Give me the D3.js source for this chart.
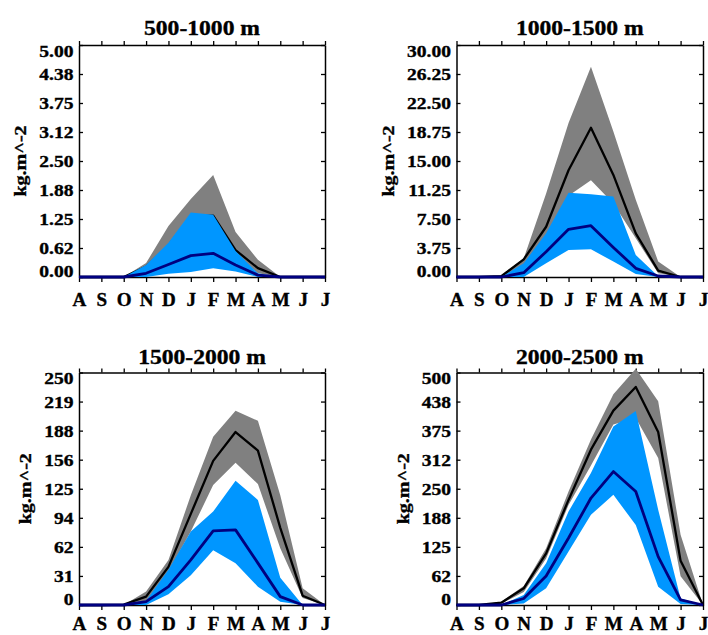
<!DOCTYPE html>
<html>
<head>
<meta charset="utf-8">
<script src="https://cdn.jsdelivr.net/npm/d3@7"></script>
<style>
  html, body { margin: 0; padding: 0; background: #fff; }
  svg { display: block; }
  text { font-family: "Liberation Serif", "Times New Roman", serif; font-weight: bold; fill: #000; stroke: #000; stroke-width: 0.35px; }
</style>
</head>
<body>
<svg id="chart" width="708" height="635"></svg>
<script>
// ---------- data ----------
const months = ["A","S","O","N","D","J","F","M","A","M","J","J"];

const titles = ["500-1000 m", "1000-1500 m", "1500-2000 m", "2000-2500 m"];
const yMax = [5, 30, 250, 500];
const ticks1 = ["0.00","0.62","1.25","1.88","2.50","3.12","3.75","4.38","5.00"];
const ticks2 = ["0.00","3.75","7.50","11.25","15.00","18.75","22.50","26.25","30.00"];
const ticks3 = ["0","31","62","94","125","156","188","219","250"];
const ticks4 = ["0","62","125","188","250","312","375","438","500"];
const yTitle = "kg.m^-2";

// 500-1000 m
const grayHi1 = [0,0,0,0.30,1.10,1.68,2.20,0.97,0.37,0,0,0];
const grayLo1 = [0,0,0,0.15,0.55,1.20,1.25,0.50,0.08,0,0,0];
const black1  = [0,0,0,0.22,0.68,1.30,1.32,0.58,0.19,0,0,0];
const blueHi1 = [0,0,0,0.26,0.74,1.39,1.34,0.56,0.08,0,0,0];
const blueLo1 = [0,0,0,0,0.07,0.11,0.19,0.12,0,0,0,0];
const navy1   = [0,0,0,0.08,0.27,0.46,0.51,0.26,0.04,0,0,0];

// 1000-1500 m
const grayHi2 = [0,0,0.2,2.4,10.8,19.9,27.2,18.8,10.0,2.0,0,0];
const grayLo2 = [0,0,0,1.2,5.0,10.5,12.5,9.5,5.0,0.5,0,0];
const black2  = [0,0,0.1,2.28,6.5,13.8,19.3,13.2,5.65,0.82,0,0];
const blueHi2 = [0,0,0,1.77,5.65,10.9,10.7,10.4,2.85,0.1,0,0];
const blueLo2 = [0,0,0,0,1.77,3.5,3.58,2.0,0.39,0,0,0];
const navy2   = [0,0,0,0.56,3.27,6.16,6.64,3.83,1.12,0.13,0,0];

// 1500-2000 m
const grayHi3 = [0,0,0,14.4,48.5,118,181,209,198,118,18,0];
const grayLo3 = [0,0,0,4,36,79,129,153,130,61,7.5,0];
const black3  = [0,0,0.5,9,41,98,155,186,166,83,10,0];
const blueHi3 = [0,0,0,4.7,38,79,100.5,133.6,113,29.4,0,0];
const blueLo3 = [0,0,0,0,11.5,32,59,45,19.7,3.6,0,0];
const navy3   = [0,0,0,3.6,19.7,48.5,79.7,80.8,45,9,0,0];

// 2000-2500 m
const grayHi4 = [0,0,7,41,122,244,356,453,508,438,151,0];
const grayLo4 = [0,0,3,28,100,215,300,388,402,316,62,0];
const black4  = [0,0,5,36,111,226,334,418,469,372,95,0];
const blueHi4 = [0,0,0,21.5,90,201,284,384,417,205,14,0];
const blueLo4 = [0,0,0,3,36,115,194,237,172,39.5,2,0];
const navy4   = [0,0,0,14,62.5,144,230,287,244,104,10.8,0];

// ---------- layout ----------
const panels = [
  { title: titles[0], max: yMax[0], ticks: ticks1, gHi: grayHi1, gLo: grayLo1, blk: black1, bHi: blueHi1, bLo: blueLo1, nav: navy1, x0: 79,    x1: 325, y0: 45,    y1: 277, titleY: 35,    monthY: 306.5 },
  { title: titles[1], max: yMax[1], ticks: ticks2, gHi: grayHi2, gLo: grayLo2, blk: black2, bHi: blueHi2, bLo: blueLo2, nav: navy2, x0: 456.5, x1: 703, y0: 45,    y1: 277, titleY: 35,    monthY: 306.5 },
  { title: titles[2], max: yMax[2], ticks: ticks3, gHi: grayHi3, gLo: grayLo3, blk: black3, bHi: blueHi3, bLo: blueLo3, nav: navy3, x0: 79,    x1: 325, y0: 372.5, y1: 605, titleY: 363.5, monthY: 630.5 },
  { title: titles[3], max: yMax[3], ticks: ticks4, gHi: grayHi4, gLo: grayLo4, blk: black4, bHi: blueHi4, bLo: blueLo4, nav: navy4, x0: 456.5, x1: 703, y0: 372.5, y1: 605, titleY: 363.5, monthY: 630.5 }
];

const SX = 1.15; // horizontal stretch of the lettering
const svg = d3.select("#chart");

panels.forEach(p => {
  const g = svg.append("g");
  const x = d3.scaleLinear().domain([0, months.length - 1]).range([p.x0, p.x1]);
  const y = d3.scaleLinear().domain([0, p.max]).range([p.y1, p.y0]);
  const tickVals = p.ticks.map((t, i) => p.max * i / (p.ticks.length - 1));
  const idx = d3.range(months.length);

  const area = (hi, lo) => d3.area().x(i => x(i)).y0(i => y(lo[i])).y1(i => y(hi[i]));
  const line = arr => d3.line().x(i => x(i)).y(i => y(arr[i]));

  // frame axes
  const left = g.append("g").attr("transform", `translate(${p.x0},0)`)
    .call(d3.axisLeft(y).tickValues(tickVals).tickFormat((d, i) => p.ticks[i]).tickSizeInner(-4).tickSizeOuter(0).tickPadding(6));
  left.selectAll("text")
    .attr("x", -5.5 / SX)
    .attr("transform", `scale(${SX},1)`)
    .style("font-size", "17px")
    .attr("dy", (d, i) => i === 0 ? "-0.02em" : (i === p.ticks.length - 1 ? "0.66em" : "0.34em"));
  g.append("g").attr("transform", `translate(${p.x1},0)`)
    .call(d3.axisRight(y).tickValues(tickVals).tickFormat("").tickSizeInner(-4).tickSizeOuter(0));
  g.append("g").attr("transform", `translate(0,${p.y0})`)
    .call(d3.axisTop(x).tickValues(idx).tickFormat("").tickSizeInner(4).tickSizeOuter(0));
  const bottom = g.append("g").attr("transform", `translate(0,${p.y1})`)
    .call(d3.axisBottom(x).tickValues(idx).tickFormat(i => months[i]).tickSizeInner(5).tickSizeOuter(0));
  bottom.selectAll("text")
    .attr("y", (p.monthY - p.y1))
    .attr("dy", 0)
    .attr("transform", "scale(1.06,1)")
    .attr("x", 0)
    .style("font-size", "18px");
  g.selectAll(".domain, .tick line").attr("stroke", "#000").attr("stroke-width", 1.3);
  g.selectAll(".tick text").attr("fill", "#000");
  g.selectAll(".domain").attr("stroke-width", 1.5);

  // data
  g.append("path").attr("d", area(p.gHi, p.gLo)(idx)).attr("fill", "#808080");
  g.append("path").attr("d", line(p.blk)(idx)).attr("fill", "none").attr("stroke", "#000").attr("stroke-width", 2.3).attr("stroke-linejoin", "round");
  g.append("path").attr("d", area(p.bHi, p.bLo)(idx)).attr("fill", "#0096ff");
  g.append("path").attr("d", line(p.nav)(idx)).attr("fill", "none").attr("stroke", "#000080").attr("stroke-width", 2.8).attr("stroke-linejoin", "round");

  // title
  g.append("text")
    .attr("transform", `translate(${(p.x0 + p.x1) / 2},${p.titleY}) scale(1.18,1)`)
    .attr("text-anchor", "middle")
    .style("font-size", "20px")
    .text(p.title);

  // y-axis title
  const bb = left.node().getBBox();
  const tx = p.x0 + bb.x - 19;
  g.append("text")
    .attr("transform", `translate(${tx},${(p.y0 + p.y1) / 2}) rotate(-90) scale(1.18,1)`)
    .attr("text-anchor", "middle")
    .attr("dy", "0.35em")
    .style("font-size", "17px")
    .text(yTitle);
});
</script>
</body>
</html>
